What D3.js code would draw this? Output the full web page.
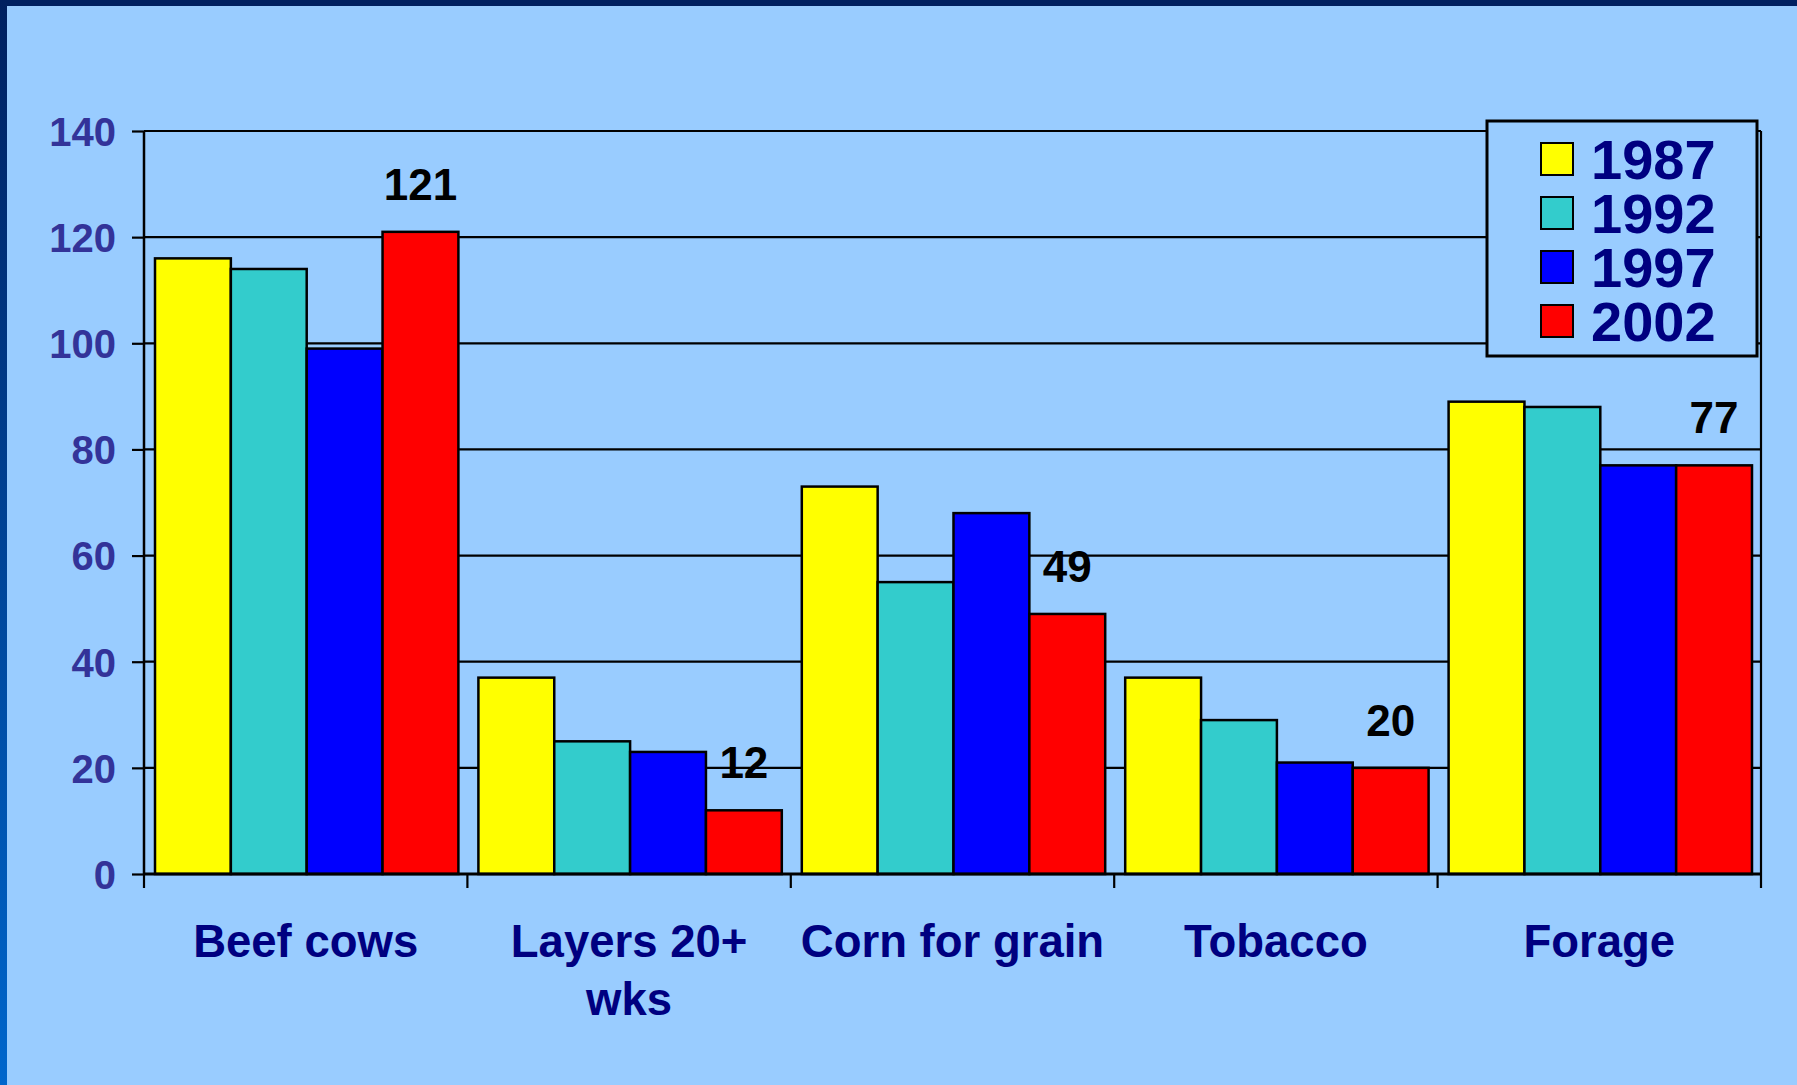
<!DOCTYPE html>
<html lang="en">
<head>
  <meta charset="UTF-8">
  <title>Farm products by year</title>
  <script src="https://d3js.org/d3.v7.min.js"></script>
  <style>
    body {
      margin: 0;
      background: #99ccff;
    }

    svg text {
      font-family: Arial, "Liberation Sans", sans-serif;
      font-weight: bold;
    }
  </style>
</head>
<body>

  <div id="chart"></div>

  <script>
    // Data
    const categories = ['Beef cows', 'Layers 20+ wks', 'Corn for grain', 'Tobacco', 'Forage'];
    const categoryLines = [['Beef cows'], ['Layers 20+', 'wks'], ['Corn for grain'], ['Tobacco'], ['Forage']];
    const years = ['1987', '1992', '1997', '2002'];
    const colors = ['#ffff00', '#33cccc', '#0000ff', '#ff0000'];

    const values1987 = [116, 37, 73, 37, 89];
    const values1992 = [114, 25, 55, 29, 88];
    const values1997 = [99, 23, 68, 21, 77];
    const values2002 = [121, 12, 49, 20, 77];
    const seriesValues = [values1987, values1992, values1997, values2002];

    const yTicks = [0, 20, 40, 60, 80, 100, 120, 140];

    const width = 1797;
    const height = 1085;
    const plotLeft = 144, plotRight = 1761, plotTop = 131, plotBottom = 874;

    const svg = d3.select('#chart')
                  .append('svg')
                  .attr('width', width)
                  .attr('height', height);

    // background and slide border
    const grad = svg.append('defs').append('linearGradient')
                    .attr('id', 'edge')
                    .attr('x1', 0).attr('y1', 0).attr('x2', 0).attr('y2', 1);
    grad.append('stop').attr('offset', '0%').attr('stop-color', '#002060');
    grad.append('stop').attr('offset', '100%').attr('stop-color', '#0066cc');

    svg.append('rect').attr('width', width).attr('height', height).attr('fill', '#99ccff');
    svg.append('rect').attr('width', width).attr('height', 6).attr('fill', '#002060');
    svg.append('rect').attr('width', 7).attr('height', height).attr('fill', 'url(#edge)');

    const x0 = d3.scaleBand().domain(categories).range([plotLeft, plotRight]);
    const x1 = d3.scaleBand().domain(years).range([11, x0.bandwidth() - 9]);
    const y = d3.scaleLinear().domain([0, 140]).range([plotBottom, plotTop]);

    // gridlines
    svg.append('g')
       .selectAll('line')
       .data(yTicks.filter(d => d > 0))
       .enter()
       .append('line')
       .attr('x1', plotLeft).attr('x2', plotRight)
       .attr('y1', d => y(d)).attr('y2', d => y(d))
       .attr('stroke', '#000')
       .attr('stroke-width', 2.2);

    // right edge of plot
    svg.append('line')
       .attr('x1', plotRight).attr('x2', plotRight)
       .attr('y1', plotTop).attr('y2', plotBottom)
       .attr('stroke', '#000').attr('stroke-width', 2.2);

    // bars
    const groups = svg.append('g')
                      .selectAll('g')
                      .data(categories)
                      .enter()
                      .append('g')
                      .attr('transform', d => `translate(${x0(d)},0)`);

    groups.selectAll('rect')
          .data((c, i) => years.map((yr, j) => ({ year: yr, j: j, value: seriesValues[j][i] })))
          .enter()
          .append('rect')
          .attr('x', d => x1(d.year))
          .attr('width', x1.bandwidth())
          .attr('y', d => y(d.value))
          .attr('height', d => y(0) - y(d.value))
          .attr('fill', d => colors[d.j])
          .attr('stroke', '#000')
          .attr('stroke-width', 2.5);

    // labels on 2002 bars
    groups.append('text')
          .attr('x', () => x1('2002') + x1.bandwidth() / 2)
          .attr('y', (c, i) => y(values2002[i]) - 32)
          .attr('text-anchor', 'middle')
          .attr('font-size', 44)
          .attr('fill', '#000')
          .text((c, i) => values2002[i]);

    // y axis
    const yAxis = svg.append('g')
                     .attr('transform', `translate(${plotLeft},0)`)
                     .call(d3.axisLeft(y).tickValues(yTicks).tickSize(12).tickPadding(16));
    yAxis.select('.domain').remove();
    yAxis.selectAll('.tick line').attr('stroke', '#000').attr('stroke-width', 2.2);
    yAxis.selectAll('.tick text')
         .attr('font-size', 40)
         .attr('fill', '#333399')
         .attr('dy', '0.36em');
    yAxis.append('line')
         .attr('x1', 0).attr('x2', 0)
         .attr('y1', plotTop).attr('y2', plotBottom + 1)
         .attr('stroke', '#000').attr('stroke-width', 2.5);

    // x axis
    svg.append('line')
       .attr('x1', plotLeft).attr('x2', plotRight)
       .attr('y1', plotBottom).attr('y2', plotBottom)
       .attr('stroke', '#000').attr('stroke-width', 3);

    const boundaries = categories.map(c => x0(c)).concat([x0.range()[1]]);
    svg.append('g')
       .selectAll('line')
       .data(boundaries)
       .enter()
       .append('line')
       .attr('x1', d => d).attr('x2', d => d)
       .attr('y1', plotBottom).attr('y2', plotBottom + 14)
       .attr('stroke', '#000').attr('stroke-width', 2.2);

    const catLabels = svg.append('g')
                         .selectAll('text')
                         .data(categories)
                         .enter()
                         .append('text')
                         .attr('x', d => x0(d) + x0.bandwidth() / 2)
                         .attr('y', 957)
                         .attr('text-anchor', 'middle')
                         .attr('font-size', 45.5)
                         .attr('fill', '#000080');

    catLabels.selectAll('tspan')
             .data((d, i) => categoryLines[i])
             .enter()
             .append('tspan')
             .attr('x', function () { return d3.select(this.parentNode).attr('x'); })
             .attr('dy', (d, i) => i === 0 ? 0 : 58)
             .text(d => d);

    // legend
    const legend = svg.append('g');
    legend.append('rect')
          .attr('x', 1487).attr('y', 121)
          .attr('width', 270).attr('height', 235)
          .attr('fill', '#99ccff')
          .attr('stroke', '#000')
          .attr('stroke-width', 3);

    const rowY = d3.scalePoint().domain(years).range([159, 321]);
    const rows = legend.selectAll('.row')
                       .data(years)
                       .enter()
                       .append('g')
                       .attr('class', 'row')
                       .attr('transform', d => `translate(0,${rowY(d)})`);

    rows.append('rect')
        .attr('x', 1541).attr('y', -16)
        .attr('width', 32).attr('height', 32)
        .attr('fill', (d, i) => colors[i])
        .attr('stroke', '#000')
        .attr('stroke-width', 2);

    rows.append('text')
        .attr('x', 1591)
        .attr('dy', '0.36em')
        .attr('font-size', 56)
        .attr('fill', '#000080')
        .text(d => d);
  </script>
</body>
</html>
